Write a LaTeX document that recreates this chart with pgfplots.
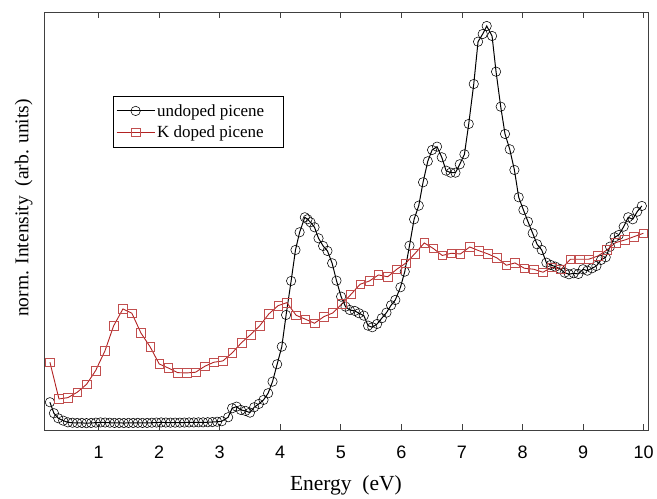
\documentclass[border=0pt]{standalone}
\usepackage{pgfplots}
\pgfplotsset{compat=1.18}
\usepackage{fontspec}
\setmainfont{Liberation Serif}
\newfontfamily\arial{Liberation Sans}
\definecolor{kred}{RGB}{178,34,34}
\begin{document}
\begin{tikzpicture}
\begin{axis}[
  scale only axis,
  width=604pt, height=418pt,
  xmin=0.1, xmax=10.07, ymin=0, ymax=418,
  xtick={1,...,10}, ytick=\empty,
  tick align=inside, major tick length=6pt,
  xtick pos=both,
  axis line style={black!75, line width=0.8pt},
  every tick/.style={black!75, line width=0.8pt},
  xticklabel style={font=\fontsize{18}{21}\selectfont\arial, yshift=-12.5pt},
  /pgf/number format/assume math mode=true,
  xlabel={Energy~~(eV)},
  ylabel={norm. Intensity~~(arb. units)},
  xlabel style={font=\fontsize{21.5}{24}\selectfont, yshift=-10pt},
  ylabel style={font=\fontsize{19.5}{22}\selectfont, yshift=8pt, xshift=13pt},
  legend style={at={(0.114,0.799)}, anchor=north west, draw=black, line width=0.6pt,
    font=\fontsize{17}{19}\selectfont, inner xsep=3pt, inner ysep=6pt, row sep=4pt},
  legend cell align=left,
  legend image code/.code={\draw[#1] (0pt,0pt) -- (38pt,0pt); \draw[#1, mark repeat=1] plot coordinates {(19pt,0pt)};},
]
\addplot[black, line width=1pt, mark=o, mark size=4.7pt, mark options={line width=0.55pt, solid}] coordinates {
(0.198,27.7)(0.264,16.7)(0.335,11.7)(0.417,9.3)(0.494,7.6)(0.571,7.2)(0.648,7.0)(0.725,7.0)(0.802,6.8)
(0.879,7.0)(0.956,7.3)(1.033,7.5)(1.11,7.4)(1.187,7.2)(1.264,7.0)(1.341,7.0)(1.418,6.9)(1.495,7.0)
(1.572,7.0)(1.649,7.1)(1.726,7.0)(1.803,7.0)(1.88,7.2)(1.957,7.4)(2.034,7.5)(2.111,7.4)(2.188,7.3)
(2.265,7.3)(2.342,7.3)(2.419,7.4)(2.496,7.5)(2.573,7.5)(2.65,7.6)(2.727,7.6)(2.804,7.7)(2.881,7.9)
(2.958,8.2)(3.035,8.7)(3.14,12.7)(3.206,21.7)(3.279,23.3)(3.35,20)(3.427,19)(3.50,17.3)(3.57,22.7)
(3.647,26)(3.724,30)(3.80,36.7)(3.873,48.3)(3.949,65.7)(4.026,83.3)(4.097,115)(4.18,149)(4.252,180)
(4.32,197.7)(4.406,212.7)(4.45,210.7)(4.50,207.7)(4.566,202.7)(4.632,191.7)(4.708,184)(4.78,179)
(4.857,166.7)(4.929,149.3)(5.005,133.3)(5.078,123.3)(5.148,120)(5.231,119)(5.30,116.7)(5.38,114.3)
(5.45,104.3)(5.52,102.7)(5.60,106)(5.676,111.7)(5.754,117.3)(5.83,124.7)(5.90,130)(5.985,142.7)
(6.056,158.3)(6.134,184.3)(6.21,210.7)(6.287,224.3)(6.358,247.7)(6.436,268.7)(6.507,280)(6.589,283.3)
(6.667,272.7)(6.738,259.3)(6.815,257.3)(6.893,257.3)(6.964,265.7)(7.041,275.7)(7.112,306)(7.195,346)
(7.266,388.3)(7.343,396)(7.409,404)(7.497,394)(7.563,358.3)(7.64,323.3)(7.711,296)(7.789,280.7)
(7.866,260)(7.937,232.7)(8.015,220)(8.09,208.3)(8.168,196.7)(8.24,185.7)(8.317,180)(8.394,167.3)
(8.465,165)(8.543,163.3)(8.62,161)(8.696,157.3)(8.767,155.7)(8.845,156.7)(8.922,156)(8.998,160.7)
(9.07,159.3)(9.147,161.7)(9.22,164)(9.296,170)(9.373,172.7)(9.445,183.3)(9.52,192.7)(9.59,195)
(9.67,203.3)(9.745,212.7)(9.82,210.7)(9.893,218.3)(9.97,224)
};
\addlegendentry{undoped picene\hspace*{14pt}}
\addplot[kred, line width=0.9pt, mark=square, mark size=4.3pt, mark options={line width=0.6pt, solid, draw=kred!80}] coordinates {
(0.198,67.7)(0.347,31)(0.495,32.3)(0.649,37.7)(0.804,45.7)(0.952,59.3)(1.106,79)(1.249,104)(1.403,121)
(1.551,116.7)(1.70,97)(1.853,83)(2.002,66)(2.15,62)(2.305,57.3)(2.454,57)(2.602,57.7)(2.756,63.7)
(2.904,67.7)(3.053,69)(3.206,77)(3.361,87.3)(3.51,95.3)(3.663,104.3)(3.812,116)(3.965,124.3)(4.109,127.3)
(4.262,114.7)(4.417,110.7)(4.566,106.7)(4.72,113.3)(4.868,117)(5.016,126)(5.17,135.7)(5.319,145.7)
(5.473,149)(5.622,155)(5.775,153.2)(5.924,160.7)(6.073,166.8)(6.223,176.3)(6.378,187)(6.527,181.5)
(6.675,174.5)(6.826,176.7)(6.975,176)(7.129,183)(7.277,179.3)(7.431,176)(7.579,172)(7.734,164.7)
(7.876,167)(8.031,161.7)(8.185,160.7)(8.338,157.7)(8.482,162.7)(8.636,160.7)(8.79,170.7)(8.944,170.7)
(9.092,170.7)(9.246,174)(9.394,180)(9.538,187.3)(9.691,190)(9.84,193.3)(9.995,196.7)
};
\addlegendentry{K doped picene}
\end{axis}
\path ([xshift=-44pt,yshift=-66pt]current axis.south west) rectangle ([xshift=9pt,yshift=12pt]current axis.north east);
\end{tikzpicture}
\end{document}
